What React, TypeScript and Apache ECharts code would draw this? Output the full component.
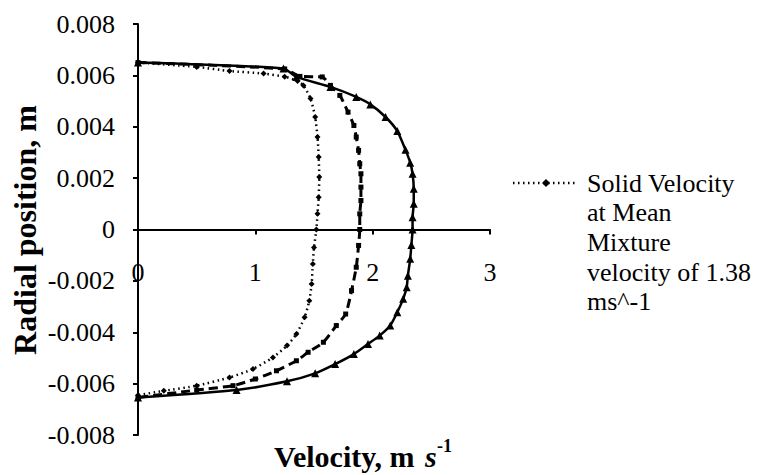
import React, { useEffect, useRef } from "react";
import * as echarts from "echarts";

// Radial velocity profiles: [velocity (m/s), radial position (m)]
const solidProfile: [number, number][] = [
  [0, 0.0065], [1.24, 0.00627], [1.35, 0.00594], [1.64, 0.00555], [1.86, 0.00516],
  [1.98, 0.00487], [2.11, 0.00438], [2.21, 0.00383], [2.28, 0.0031], [2.32, 0.0026],
  [2.34, 0.00217], [2.35, 0.00159], [2.35, 0.001], [2.34, 0.00048], [2.34, 0],
  [2.33, -0.0006], [2.32, -0.00114], [2.3, -0.0018], [2.29, -0.00225], [2.26, -0.0027],
  [2.21, -0.00322], [2.15, -0.00374], [2.06, -0.00413], [1.96, -0.00446], [1.84, -0.00485],
  [1.68, -0.00524], [1.51, -0.0056], [1.27, -0.00591], [0.84, -0.00625], [0, -0.00654],
];

const dashedProfile: [number, number][] = [
  [0, 0.0065], [1.25, 0.00625], [1.38, 0.00596], [1.57, 0.00594], [1.64, 0.00561],
  [1.72, 0.00522], [1.79, 0.00457], [1.84, 0.00405], [1.86, 0.0036], [1.88, 0.00308],
  [1.89, 0.00256], [1.9, 0.00217], [1.9, 0.00165], [1.9, 0.00113], [1.89, 0.00061],
  [1.89, 0], [1.88, -0.00062], [1.86, -0.00147], [1.82, -0.00238], [1.77, -0.00329],
  [1.69, -0.00374], [1.58, -0.00439], [1.45, -0.00478], [1.35, -0.00511], [1.18, -0.0055],
  [1.0, -0.00582], [0.81, -0.00608], [0.5, -0.00625], [0, -0.00654],
];

const dottedProfile: [number, number][] = [
  [0, 0.0065], [0.5, 0.00633], [0.78, 0.00617], [1.07, 0.00607], [1.25, 0.00595],
  [1.36, 0.00578], [1.41, 0.00561], [1.47, 0.0051], [1.51, 0.00438], [1.53, 0.0036],
  [1.54, 0.00282], [1.545, 0.00204], [1.54, 0.00126], [1.53, 0.00061], [1.52, 0],
  [1.5, -0.0007], [1.49, -0.00134], [1.48, -0.00212], [1.46, -0.00277], [1.42, -0.00342],
  [1.35, -0.00407], [1.27, -0.00452], [1.15, -0.00498], [0.98, -0.00543], [0.78, -0.00576],
  [0.5, -0.00608], [0.22, -0.00628], [0, -0.00645],
];

const legendLines = ["Solid Velocity", "at Mean", "Mixture", "velocity of 1.38", "ms^-1"];
const yTitle = "Radial position, m";
const xTitleParts = ["Velocity, m", "s", "-1"];

const FAMILY = "Liberation Serif";

export default function App() {
  const ref = useRef<HTMLDivElement>(null);

  useEffect(() => {
    if (!ref.current) return;
    const chart = echarts.init(ref.current, undefined, { renderer: "svg" });

    // Legend: dotted sample line with a diamond, then one text per line
    const legendGraphics: any[] = [
      {
        type: "line",
        shape: { x1: 513, y1: 183, x2: 578, y2: 183 },
        style: { stroke: "#000", lineWidth: 2.5, lineDash: [1.5, 3.5] },
      },
      {
        type: "polygon",
        shape: { points: [[546, 179], [550, 183], [546, 187], [542, 183]] },
        style: { fill: "#000" },
      },
      ...legendLines.map((line, i) => ({
        type: "text",
        x: 587,
        y: 183 + i * 29.7,
        scaleX: 1.3,
        scaleY: 1.3,
        style: {
          text: line,
          fontFamily: FAMILY,
          fontSize: 20,
          fill: "#000",
          verticalAlign: "middle",
        },
      })),
    ];

    chart.setOption({
      animation: false,
      backgroundColor: "#ffffff",
      textStyle: { fontFamily: FAMILY },
      grid: { left: 138, top: 24, width: 352, height: 411, containLabel: false },
      xAxis: {
        type: "value",
        min: 0,
        max: 3,
        interval: 1,
        axisLine: { onZero: true, lineStyle: { color: "#000", width: 2 } },
        axisTick: { show: true, length: 5, lineStyle: { color: "#000", width: 2 } },
        axisLabel: { color: "#000", fontFamily: FAMILY, fontSize: 26, margin: -176 },
        splitLine: { show: false },
      },
      yAxis: {
        type: "value",
        min: -0.008,
        max: 0.008,
        interval: 0.002,
        axisLine: { show: true, lineStyle: { color: "#000", width: 2 } },
        axisTick: { show: true, length: 5, lineStyle: { color: "#000", width: 2 } },
        axisLabel: {
          color: "#000",
          fontFamily: FAMILY,
          fontSize: 26,
          margin: 23,
          formatter: (v: number) => (Math.abs(v) < 1e-9 ? "0" : v.toFixed(3)),
        },
        splitLine: { show: false },
      },
      series: [
        {
          type: "line",
          data: solidProfile,
          smooth: 0.2,
          symbol: "triangle",
          symbolSize: 8,
          itemStyle: { color: "#000" },
          lineStyle: { color: "#000", width: 2.5 },
        },
        {
          type: "line",
          data: dashedProfile,
          smooth: 0.2,
          symbol: "rect",
          symbolSize: 5,
          itemStyle: { color: "#000" },
          lineStyle: { color: "#000", width: 3, type: [9, 5] },
        },
        {
          type: "line",
          data: dottedProfile,
          smooth: 0.2,
          symbol: "diamond",
          symbolSize: 6,
          itemStyle: { color: "#000" },
          lineStyle: { color: "#000", width: 2.5, type: [1.5, 3.5] },
        },
      ],
      graphic: [
        ...legendGraphics,
        {
          type: "text",
          x: 25,
          y: 230,
          rotation: Math.PI / 2,
          style: {
            text: yTitle,
            fontFamily: FAMILY,
            fontWeight: "bold",
            fontSize: 32,
            fill: "#000",
            align: "center",
            verticalAlign: "middle",
          },
        },
        {
          type: "text",
          x: 274,
          y: 456,
          style: {
            text: xTitleParts[0],
            fontFamily: FAMILY,
            fontWeight: "bold",
            fontSize: 30,
            fill: "#000",
            verticalAlign: "middle",
          },
        },
        {
          type: "text",
          x: 425,
          y: 456,
          style: {
            text: xTitleParts[1],
            fontFamily: FAMILY,
            fontWeight: "bold",
            fontStyle: "italic",
            fontSize: 30,
            fill: "#000",
            verticalAlign: "middle",
          },
        },
        {
          type: "text",
          x: 437,
          y: 446,
          style: {
            text: xTitleParts[2],
            fontFamily: FAMILY,
            fontWeight: "bold",
            fontSize: 18,
            fill: "#000",
            verticalAlign: "middle",
          },
        },
      ],
    });
    return () => chart.dispose();
  }, []);

  return (
    <div
      ref={ref}
      style={{ position: "absolute", left: 0, top: 0, width: 761, height: 475 }}
    />
  );
}
